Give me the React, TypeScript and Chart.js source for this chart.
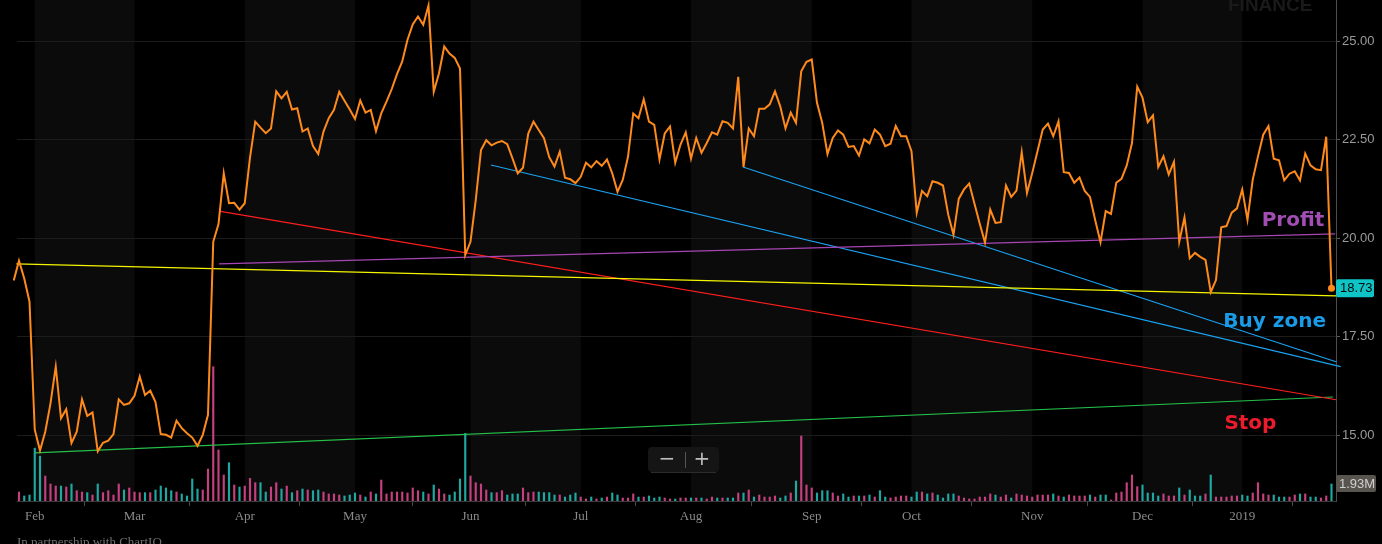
import { useEffect, useRef } from "react";
import { Chart, registerables } from "chart.js";

Chart.register(...registerables);

// ---- DATA ----
// trading-day index 0 = Jan 29 2018 ... 250 = Jan 28 2019
const PRIOR_CLOSE = 18.93;

const closePrices = [
  19.43, 18.98, 18.39, 15.14, 14.61, 15.09, 15.81, 16.74, 15.43, 15.66,
  14.8, 15.09, 15.91, 15.49, 15.58, 14.59, 14.81, 14.86, 15.03, 15.91,
  15.77, 15.81, 16.0, 16.49, 16.02, 16.13, 15.84, 15.03, 15.01, 14.94,
  15.37, 15.18, 15.05, 14.94, 14.73, 15.01, 15.52, 19.91, 20.36, 21.65,
  20.89, 20.9, 20.73, 20.89, 22.05, 22.96, 22.81, 22.67, 22.79, 23.73,
  23.55, 23.72, 23.27, 23.3, 22.71, 22.79, 22.34, 22.14, 22.71, 23.05,
  23.26, 23.72, 23.49, 23.27, 23.03, 23.5, 23.19, 23.26, 22.72, 23.17,
  23.47, 23.79, 24.17, 24.49, 25.04, 25.43, 25.63, 25.42, 25.91, 23.72,
  24.19, 24.87, 24.69, 24.58, 24.31, 19.58, 19.91, 20.97, 22.24, 22.49,
  22.36, 22.43, 22.47, 22.39, 22.03, 21.65, 21.79, 22.66, 22.96, 22.75,
  22.54, 22.06, 21.82, 22.2, 21.54, 21.5, 21.4, 21.56, 21.92, 21.8,
  21.96, 21.84, 22.0, 21.65, 21.18, 21.48, 22.07, 23.17, 23.05, 23.53,
  22.96, 22.88, 22.0, 22.66, 22.84, 21.92, 22.38, 22.69, 22.02, 22.55,
  22.17, 22.42, 22.69, 22.63, 22.97, 22.93, 22.79, 24.1, 21.81, 22.79,
  22.59, 23.29, 23.29, 23.4, 23.73, 23.35, 22.79, 23.19, 22.93, 24.24,
  24.48, 24.54, 23.44, 22.93, 22.14, 22.55, 22.74, 22.63, 22.32, 22.34,
  22.1, 22.51, 22.41, 22.76, 22.63, 22.34, 22.4, 22.85, 22.59, 22.59,
  22.21, 20.65, 21.2, 21.07, 21.45, 21.41, 21.34, 20.6, 20.09, 21.0,
  21.24, 21.39, 20.88, 20.37, 19.89, 20.73, 20.39, 20.41, 21.34, 21.05,
  21.21, 22.19, 21.15, 21.66, 22.21, 22.76, 22.91, 22.59, 22.97, 21.68,
  21.66, 21.41, 21.54, 21.2, 21.05, 20.46, 19.9, 20.69, 20.62, 21.41,
  21.51, 21.85, 22.42, 23.85, 23.57, 22.95, 23.12, 21.81, 22.08, 21.62,
  21.94, 19.91, 20.53, 19.49, 19.63, 19.53, 19.45, 18.63, 18.94, 20.28,
  20.31, 20.65, 20.76, 21.24, 20.47, 21.49, 22.08, 22.63, 22.85, 22.02,
  21.98, 21.47, 21.64, 21.7, 21.47, 22.15, 21.85, 21.75, 21.73, 22.58,
  18.73,
];

// volume in millions
const volumes = [
  1.02, 0.57, 0.68, 6.0, 5.1, 2.84, 1.93, 1.7, 1.7, 1.59,
  1.93, 1.17, 1.02, 0.95, 0.68, 1.93, 0.95, 1.17, 0.68, 1.93,
  1.25, 1.48, 1.02, 0.95, 0.95, 0.95, 1.25, 1.7, 1.48, 1.17,
  1.02, 0.8, 0.57, 2.5, 1.36, 1.25, 3.63, 15.25, 5.79, 2.95,
  4.35, 1.82, 1.59, 1.7, 2.57, 2.08, 2.08, 1.02, 1.59, 2.08,
  1.36, 1.7, 0.95, 1.17, 1.36, 1.25, 1.17, 1.25, 1.02, 0.8,
  0.8, 0.68, 0.57, 0.68, 0.91, 0.68, 0.45, 1.02, 0.8, 2.38,
  0.8, 1.02, 1.02, 1.02, 0.91, 1.48, 1.17, 1.02, 0.8, 1.82,
  1.36, 0.8, 0.68, 1.02, 2.5, 7.68, 2.84, 2.08, 1.93, 1.25,
  0.95, 0.95, 1.17, 0.68, 0.8, 0.8, 1.48, 0.95, 1.02, 1.02,
  0.95, 0.95, 0.68, 0.68, 0.45, 0.68, 0.91, 0.45, 0.23, 0.45,
  0.23, 0.34, 0.45, 0.91, 0.68, 0.34, 0.34, 0.8, 0.45, 0.45,
  0.57, 0.34, 0.45, 0.34, 0.23, 0.23, 0.34, 0.34, 0.34, 0.34,
  0.34, 0.23, 0.45, 0.34, 0.34, 0.34, 0.34, 0.91, 0.91, 1.25,
  0.45, 0.68, 0.45, 0.45, 0.57, 0.34, 0.57, 0.91, 2.27, 7.38,
  1.82, 1.48, 0.91, 1.17, 1.17, 0.91, 0.57, 0.8, 0.45, 0.57,
  0.57, 0.57, 0.68, 0.45, 1.17, 0.45, 0.34, 0.45, 0.57, 0.57,
  0.45, 1.02, 1.02, 0.8, 0.91, 0.68, 0.34, 0.8, 0.8, 0.57,
  0.34, 0.23, 0.23, 0.45, 0.45, 0.8, 0.68, 0.45, 0.68, 0.34,
  0.8, 0.68, 0.57, 0.45, 0.68, 0.68, 0.68, 0.8, 0.57, 0.45,
  0.68, 0.57, 0.57, 0.57, 0.68, 0.45, 0.68, 0.68, 0.11, 0.91,
  1.02, 2.08, 2.95, 1.63, 1.82, 0.91, 0.91, 0.57, 0.8, 0.57,
  0.57, 1.48, 0.68, 1.25, 0.57, 0.57, 0.8, 2.95, 0.45, 0.45,
  0.45, 0.57, 0.57, 0.68, 0.57, 0.91, 2.08, 0.8, 0.68, 0.68,
  0.45, 0.45, 0.45, 0.68, 0.8, 0.8, 0.45, 0.45, 0.34, 0.57,
  1.93,
];

// 1 = up (teal) bar, 0 = down (pink) bar
const volumeUp = [
  0, 1, 1, 1, 1, 0, 0, 0, 1, 0,
  1, 0, 0, 1, 0, 1, 0, 0, 0, 0,
  1, 0, 0, 0, 1, 0, 1, 1, 1, 1,
  0, 1, 1, 1, 1, 0, 0, 0, 0, 0,
  1, 0, 1, 0, 0, 0, 1, 1, 0, 0,
  1, 0, 1, 0, 1, 0, 1, 1, 0, 0,
  0, 0, 1, 1, 1, 0, 1, 0, 1, 0,
  0, 0, 0, 0, 0, 0, 0, 1, 0, 1,
  0, 0, 1, 1, 1, 1, 0, 0, 0, 0,
  1, 0, 0, 1, 1, 1, 0, 0, 0, 1,
  1, 1, 1, 0, 1, 1, 1, 0, 0, 1,
  0, 1, 0, 1, 1, 0, 0, 0, 1, 0,
  1, 1, 1, 0, 0, 1, 0, 0, 1, 0,
  1, 0, 0, 1, 0, 1, 1, 0, 1, 0,
  1, 0, 0, 0, 0, 1, 1, 0, 1, 0,
  0, 0, 1, 1, 1, 0, 0, 1, 1, 0,
  1, 0, 1, 0, 1, 1, 0, 0, 0, 0,
  1, 1, 0, 1, 0, 1, 1, 1, 1, 0,
  0, 0, 0, 0, 0, 0, 1, 0, 0, 1,
  0, 0, 0, 0, 0, 0, 0, 1, 0, 1,
  0, 0, 0, 0, 1, 0, 1, 1, 0, 0,
  0, 0, 0, 0, 1, 1, 1, 1, 0, 0,
  0, 1, 0, 1, 1, 1, 0, 1, 0, 0,
  0, 0, 0, 1, 1, 0, 0, 0, 0, 1,
  1, 1, 0, 0, 1, 0, 1, 1, 0, 0,
  1,
];

const monthTickIndex = [3, 22, 43, 64, 86, 107, 128, 151, 170, 193, 214, 233];
const monthLabels = ["Feb", "Mar", "Apr", "May", "Jun", "Jul", "Aug", "Sep", "Oct", "Nov", "Dec", "2019"];
const priceTicks = [15, 17.5, 20, 22.5, 25];

// drawn trend lines: [index, price] pairs
const lineYellow = [[-0.57, 19.35], [250.9, 18.54]];
const lineProfit = [[38.1, 19.35], [250.7, 20.11]];
const lineStop = [[38.1, 20.69], [250.9, 15.9]];
const lineGreen = [[3.05, 14.55], [250.3, 15.97]];
const lineBuy1 = [[89.9, 21.86], [251.75, 16.74]];
const lineBuy2 = [[137.9, 21.81], [251.0, 16.86]];

const noteTexts = ["Profit", "Buy zone", "Stop"];
const noteAnchors = [[236.7, 20.31], [229.4, 17.74], [229.6, 15.17]];

// ---- STYLES ----
const ORANGE = "#ff8a1c";
const TEAL = "#1fa8a2";
const PINK = "#c4407e";
const noteColors = ["#a24db3", "#1a9be8", "#ec1c2c"];

const toPts = (arr: number[][]) => arr.map(([x, y]) => ({ x, y }));

const decorPlugin = {
  id: "decor",
  beforeDraw(chart: any) {
    const { ctx, chartArea: a, scales } = chart;
    const x = scales.x;
    ctx.save();
    ctx.fillStyle = "#000";
    ctx.fillRect(0, 0, chart.width, chart.height);
    ctx.fillStyle = "#0b0b0b";
    for (let k = 0; k + 1 < monthTickIndex.length; k += 2) {
      const x0 = x.getPixelForValue(monthTickIndex[k]);
      const x1 = x.getPixelForValue(monthTickIndex[k + 1]);
      ctx.fillRect(x0, a.top, x1 - x0, a.bottom - a.top);
    }
    ctx.restore();
  },
  afterDraw(chart: any) {
    const { ctx, chartArea: a, scales } = chart;
    const x = scales.x;
    const y = scales.y;
    const yv = scales.yv;
    ctx.save();

    // watermark
    ctx.fillStyle = "#1a1a1a";
    ctx.font = "bold 19px 'Liberation Sans'";
    ctx.textBaseline = "alphabetic";
    ctx.textAlign = "left";
    ctx.fillText("FINANCE", 1228, 11);

    // annotations
    ctx.font = "bold 20px 'DejaVu Sans'";
    noteTexts.forEach((t, i) => {
      ctx.fillStyle = noteColors[i];
      ctx.fillText(t, x.getPixelForValue(noteAnchors[i][0]), y.getPixelForValue(noteAnchors[i][1]));
    });

    // last price badge
    const last = closePrices[closePrices.length - 1];
    const py = y.getPixelForValue(last);
    ctx.fillStyle = "#0fc4c4";
    ctx.beginPath();
    (ctx as any).roundRect(a.right, py - 9, 38, 18, 2);
    ctx.fill();
    ctx.fillStyle = "#0a0a0a";
    ctx.font = "13px 'Liberation Sans'";
    ctx.textBaseline = "middle";
    ctx.fillText(last.toFixed(2), a.right + 4, py + 0.5);

    // last volume badge
    const lv = volumes[volumes.length - 1];
    const vy = yv.getPixelForValue(lv);
    ctx.fillStyle = "#58544e";
    ctx.beginPath();
    (ctx as any).roundRect(a.right, vy - 9, 40, 17, 2);
    ctx.fill();
    ctx.fillStyle = "#d0d0d0";
    ctx.fillText(lv.toFixed(2) + "M", a.right + 3, vy);

    // zoom control
    ctx.fillStyle = "#151515";
    ctx.beginPath();
    (ctx as any).roundRect(648, 447, 71, 25, 4);
    ctx.fill();
    ctx.strokeStyle = "#2c2c2c";
    ctx.lineWidth = 1;
    ctx.beginPath();
    ctx.moveTo(651, 472.5);
    ctx.lineTo(716, 472.5);
    ctx.stroke();
    ctx.strokeStyle = "#555";
    ctx.beginPath();
    ctx.moveTo(685.5, 452);
    ctx.lineTo(685.5, 468);
    ctx.stroke();
    ctx.fillStyle = "#bdbdbd";
    ctx.font = "20px 'DejaVu Sans'";
    ctx.textAlign = "center";
    ctx.textBaseline = "middle";
    ctx.fillText("\u2212", 667, 460);
    ctx.fillText("+", 702, 460);

    // footer
    ctx.textAlign = "left";
    ctx.textBaseline = "top";
    ctx.fillStyle = "#707070";
    ctx.font = "13px 'Liberation Serif'";
    ctx.fillText("In partnership with ChartIQ", 17, 536);
    ctx.restore();
  },
};

export default function App() {
  const ref = useRef<HTMLCanvasElement | null>(null);

  useEffect(() => {
    document.body.style.margin = "0";
    document.body.style.background = "#000";
    const canvas = ref.current;
    if (!canvas) return;

    const pricePts = [{ x: -1, y: PRIOR_CLOSE }, ...closePrices.map((v, i) => ({ x: i, y: v }))];
    const volPts = volumes.map((v, i) => ({ x: i, y: v }));
    const volColors = volumeUp.map((u) => (u ? TEAL : PINK));

    const trend = (data: number[][], color: string, w = 1.2, clip: number = 0.6) => ({
      type: "line" as const,
      data: toPts(data),
      borderColor: color,
      borderWidth: w,
      pointRadius: 0,
      yAxisID: "y",
      order: 2,
      clip,
    });

    const chart = new Chart(canvas, {
      type: "line",
      data: {
        datasets: [
          {
            type: "line",
            data: pricePts,
            borderColor: ORANGE,
            borderWidth: 2,
            pointRadius: (c: any) => (c.dataIndex === closePrices.length ? 3.5 : 0),
            pointBackgroundColor: ORANGE,
            pointBorderWidth: 0,
            tension: 0,
            yAxisID: "y",
            order: 0,
            clip: 4,
          } as any,
          trend(lineYellow, "#f5f500"),
          trend(lineProfit, "#a845b4"),
          trend(lineStop, "#ff1e1e"),
          trend(lineGreen, "#25c04a"),
          trend(lineBuy1, "#1aa2f2", 1.2, 6),
          trend(lineBuy2, "#1aa2f2"),
          {
            type: "bar",
            data: volPts,
            backgroundColor: volColors,
            borderWidth: 0,
            barThickness: 1.5,
            yAxisID: "yv",
            order: 10,
          } as any,
        ],
      },
      options: {
        animation: false,
        responsive: true,
        maintainAspectRatio: false,
        layout: { autoPadding: false, padding: { left: 17, top: 0, right: 0, bottom: 0 } },
        plugins: { legend: { display: false }, tooltip: { enabled: false } },
        events: [],
        scales: {
          x: {
            type: "linear",
            offset: false,
            min: -0.381,
            max: 250.86,
            afterBuildTicks: (s: any) => {
              s.ticks = monthTickIndex.map((v) => ({ value: v }));
            },
            afterFit: (s: any) => {
              s.height = 43;
              s.paddingLeft = 0;
              s.paddingRight = 0;
            },
            ticks: {
              autoSkip: false,
              maxRotation: 0,
              padding: 3,
              color: "#8a8a8a",
              font: { family: "'Liberation Serif'", size: 13 },
              callback: (v: any) => {
                const k = monthTickIndex.indexOf(Number(v));
                return k >= 0 ? monthLabels[k] : "";
              },
            },
            grid: { drawOnChartArea: false, tickLength: 5, tickColor: "#4a4a4a", color: "#4a4a4a" },
            border: { display: true, color: "#3c3c3c" },
          },
          y: {
            type: "linear",
            position: "right",
            min: 13.33,
            max: 26.05,
            afterBuildTicks: (s: any) => {
              s.ticks = priceTicks.map((v) => ({ value: v }));
            },
            afterFit: (s: any) => {
              s.width = 46;
              s.paddingTop = 0;
              s.paddingBottom = 0;
            },
            ticks: {
              padding: 2,
              color: "#9a9a9a",
              font: { family: "'Liberation Sans'", size: 13 },
              callback: (v: any) => Number(v).toFixed(2),
            },
            grid: { color: "#1c1c1c", tickLength: 4, tickColor: "#5a5a5a" },
            border: { display: true, color: "#4e4e4e" },
          },
          yv: {
            type: "linear",
            display: false,
            min: 0,
            max: 56.9,
          },
        },
      },
      plugins: [decorPlugin],
    } as any);

    return () => chart.destroy();
  }, []);

  return (
    <div style={{ width: 1382, height: 544, position: "relative", background: "#000" }}>
      <canvas ref={ref} />
    </div>
  );
}
